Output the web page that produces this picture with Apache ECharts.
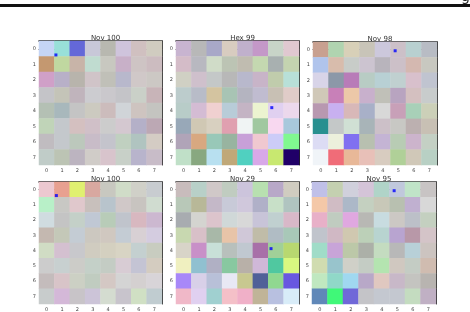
<!DOCTYPE html>
<html><head><meta charset="utf-8">
<script src="https://cdn.jsdelivr.net/npm/echarts@6/dist/echarts.min.js"></script>
<style>html,body{margin:0;padding:0;background:#fff}#c{width:470px;height:312px}</style>
</head><body><div id="c"></div>
<script>
const ticks = ['0','1','2','3','4','5','6','7'];
const titles = ['Nov 100','Hex 99','Nov 98','Nov 100','Nov 29','Nov 95'];
const colors1 = [
 ['#c5d5f5','#98e0d8','#6468d8','#c8c8d8','#b8b8b0','#cfc4dc','#d0c0c0','#d0ccc0'],
 ['#c49870','#c0d8a0','#c8b4a8','#c0dcd0','#c8c8c0','#c8b0c8','#cec4c4','#ccbcc0'],
 ['#d0a0c8','#b8b0c8','#b8b4ac','#d0c4c8','#c0c0b8','#b8b8cc','#d0c8c8','#ccc8c4'],
 ['#c4c4c8','#c4c4b8','#c0b4bc','#ccccd0','#cac8cc','#c4c4c8','#cad0c8','#c8b4b8'],
 ['#b4c0b4','#a8b8bc','#c4c4c4','#cccac0','#ccbcbc','#d0d4d8','#cec4c0','#c4c4c0'],
 ['#c0d4b8','#c4c8cc','#d4c0c0','#d0c0c8','#cccccc','#d4c8d0','#b4b0c8','#bca8b4'],
 ['#c0bcc0','#c4c8cc','#bcc8bc','#c8bcc8','#c4c4cc','#c0d0c0','#b0c4c0','#d4ccc4'],
 ['#c0ccc8','#bcc4b4','#bcb4c0','#d0ccc8','#d8c4cc','#c8d0c8','#b8b4cc','#c8bcc8']];
const colors2 = [
 ['#c8b4d0','#b8b8b8','#a8a8c8','#d8ccc0','#c0b0cc','#c498c8','#c8d4c8','#e0c8d0'],
 ['#d4bcc8','#b8b8c0','#d0dcc8','#bcc4b4','#c0bcb0','#c4d8b0','#a8b0b0','#c4d4b0'],
 ['#d0d0c4','#cfc0cc','#c4c8c8','#b8b8b8','#b8b8cc','#c8b4c8','#c0ccac','#b8e0d8'],
 ['#bccccc','#b8bcc8','#d4c4a0','#a8c4b4','#b4b4c0','#c0bcd0','#c8c0b4','#e0ccc8'],
 ['#b8ccc8','#d4bcd4','#f0d0d0','#b8ccd8','#c4b4c4','#ecf4d0','#e0d0f0','#ecd8ec'],
 ['#98a8b8','#d0c8b4','#d8d0c0','#e0a0b0','#f0f4f4','#a0c8a0','#f8d8f0','#a8c8dc'],
 ['#b0a4b8','#d8a880','#98c8b8','#98b4a0','#c8a0d8','#f0c8d0','#ccccf8','#80f890'],
 ['#c0e0c8','#88a880','#b8e0f0','#c0a878','#50d0c0','#d8a8e8','#c8e870','#200068']];
const colors3 = [
 ['#c8a090','#b0d4b0','#d8d0b8','#c8c4b8','#ccc8dc','#ccc0c8','#b8d0d0','#b8bcc4'],
 ['#b0c4ec','#d8bcac','#c8ccc8','#ccc4d0','#b8b4bc','#ccc0c8','#d4b8b0','#c8c8c0'],
 ['#d8d4e8','#8c98a8','#b87cb8','#b8ccc4','#b8d0d4','#c0d0d0','#d8c0cc','#c0c4d0'],
 ['#d0c8b8','#c880b8','#ecc8a8','#c8b0cc','#c0c0b8','#b8a4c0','#d4c0c0','#c8cccc'],
 ['#b898b0','#c8b0f0','#d8b8b8','#a8b0c8','#d8d8d8','#c8a0b8','#a8d0b8','#ccd0b8'],
 ['#289090','#c4c8c8','#d0e0d4','#a8b4b8','#ccc0c8','#c8c8c4','#bcb0b0','#c8c0b4'],
 ['#dcdcf4','#ecf0dc','#8070f0','#b8c0b0','#c4b4d4','#b8ccb4','#ccb4cc','#c4d0c4'],
 ['#f0f4f8','#f06c78','#e8b898','#e8c0b8','#d8ccc0','#b0d098','#d0c8b8','#b8d0c4']];
const colors4 = [
 ['#ecc8d0','#e8a090','#e0f070','#d8a8a0','#c8c8c0','#d0dcc8','#d0d0c8','#c8ccd0'],
 ['#b8f0c8','#c8c8c4','#e0c8cc','#c8c0bc','#b8c4cc','#d0c8c8','#c8c4c0','#d0dcd0'],
 ['#d0dce0','#c4c4c4','#c4d0c8','#c0c8d4','#b8ccb8','#c0c4cc','#d8b8c0','#ccb8d0'],
 ['#c4b8b0','#c4c8b8','#c4ccd4','#ccc8c0','#d0c8c0','#c4ccd4','#d8d0d4','#d4cce0'],
 ['#d0dcc4','#d4c0d0','#c8c8cc','#d0ccc0','#d4d0c0','#d8d4c4','#c4d0d0','#c8ccc0'],
 ['#cccccc','#c8d0d0','#ccccc8','#c4d0c8','#c4ccc4','#d8ccd4','#c4c4d4','#d4ccc0'],
 ['#c4bcbc','#d8c4c8','#ccd0c4','#c0ccc0','#d4c8c4','#d4d4d4','#d4d0d0','#d8d4d8'],
 ['#c8cccc','#d4b8d8','#c8c4c8','#ccc4d8','#d4dcd0','#c8c4cc','#d0e0c4','#c0ccd0']];
const colors5 = [
 ['#c8bcbc','#b8d0c8','#d0c8c8','#c0ccc0','#ccc4dc','#b8e0b0','#b8a8c8','#d0ccc0'],
 ['#b8c8b8','#b8b898','#c4b8c8','#c8cad8','#d0c8dc','#b0b0c8','#c8e0c8','#b0c4c0'],
 ['#a8acb0','#d4d4d0','#dcc4cc','#d0d8d8','#d8d8d8','#c8c4d8','#c0d0d0','#d8b8c8'],
 ['#c8d8b0','#d8c0c8','#a8b8a8','#e8c4a8','#d0c8d8','#c0bca8','#b0bcc4','#a8c8b8'],
 ['#d8d4c8','#c890c8','#c8e0d8','#b8c0bc','#c0c8d0','#a870a8','#a0d098','#b8d870'],
 ['#f0f0c0','#90c0d0','#b0b0c4','#88c8a0','#b8b0a8','#d0b8d8','#50c8a0','#d8f880'],
 ['#a888f8','#d8d0e8','#b8c0d8','#e8e8f4','#c8c890','#506098','#90d890','#6858e0'],
 ['#f0b8c8','#e0d0f0','#a0d0d0','#f4c0c8','#f0b0c8','#c0b498','#b8c0e0','#d8ecf8']];
const colors6 = [
 ['#c0c0e8','#c4d0b0','#d0d0dc','#d4c4d8','#b0d4c8','#c0c8dc','#c0e4c8','#c8c4c4'],
 ['#f4c8a8','#d0bcc4','#acb8c8','#c4d0c0','#c8c8b8','#b8c0b0','#c0b0d0','#d8d8d8'],
 ['#e8b0c8','#c0ccc0','#e0a8e0','#b8b8b4','#c8dce0','#ccc8c4','#bcc0c8','#c4d0c0'],
 ['#c0c4cc','#d0b8c4','#d0c8b0','#bcd0b8','#b8d4d0','#b8a4d0','#b898a8','#d4c4c8'],
 ['#a0dcc8','#c8a4d8','#bcc8a8','#acb0a8','#c4dcc0','#b8b8b8','#b8d0d8','#ccc4c0'],
 ['#d0dcb0','#98c4cc','#d0d0c8','#c4ccc4','#b4e4b0','#d0c8c0','#c4ccc4','#d0bcb0'],
 ['#c0e8c0','#90d8c8','#a0d8f0','#b8a8c8','#e0c8c0','#c8b8c8','#c4c4c0','#b8b4b0'],
 ['#6088b8','#40f878','#7068d8','#c4c4c8','#c4c8d0','#c4c8d0','#c4dcc0','#c0b0c4']];
const markers = [[0.6,0.4],[5.73,3.8],[4.8,0.07],[0.63,0.39],[5.68,3.87],[4.8,0.07]];

const colorSets = [colors1,colors2,colors3,colors4,colors5,colors6];
const grids = [
 {left:39,top:41,width:123,height:124},
 {left:176,top:41,width:123,height:124},
 {left:313,top:42,width:124,height:123},
 {left:39,top:182,width:123,height:123},
 {left:176,top:182,width:123,height:123},
 {left:312,top:182,width:124,height:123}];
const font = 'DejaVu Sans';
const option = {animation:false, backgroundColor:'#fff', grid:grids, xAxis:[], yAxis:[], series:[], title:[], graphic:[
  {type:'rect', shape:{x:0,y:4,width:470,height:3}, style:{fill:'#111'}},
  {type:'text', x:461, y:-10, style:{text:'g', fontSize:14, fill:'#222', fontFamily:font}}
]};
colorSets.forEach((cs,i)=>{
  const g = grids[i];
  option.title.push({text:titles[i], left:g.left+g.width/2, top:g.top-11, textAlign:'center',
    textStyle:{fontSize:7, fontWeight:'normal', color:'#333', fontFamily:font}});
  option.xAxis.push({type:'category', gridIndex:i, data:ticks, position:'bottom',
    axisLine:{show:true, lineStyle:{color:'#444', width:1}},
    axisTick:{show:true, alignWithLabel:true, length:2, lineStyle:{color:'#333'}},
    axisLabel:{fontSize:5, color:'#444', margin:3, fontFamily:font}, splitLine:{show:false}});
  option.yAxis.push({type:'category', gridIndex:i, data:ticks, inverse:true,
    axisLine:{show:false},
    axisTick:{show:true, alignWithLabel:true, length:2, lineStyle:{color:'#333'}},
    axisLabel:{fontSize:5, color:'#444', margin:3, fontFamily:font}, splitLine:{show:false}});
  option.xAxis.push({type:'value', gridIndex:i, min:-0.5, max:7.5, position:'top',
    axisLine:{show:true, lineStyle:{color:'#111', width:1.5}}, axisTick:{show:false}, axisLabel:{show:false}, splitLine:{show:false}});
  option.yAxis.push({type:'value', gridIndex:i, min:-0.5, max:7.5, inverse:true, position:'right',
    axisLine:{show:true, lineStyle:{color:'#222', width:1}}, axisTick:{show:false}, axisLabel:{show:false}, splitLine:{show:false}});
  const data = [];
  cs.forEach((row,r)=>row.forEach((c,col)=>data.push({value:[col,r,1], itemStyle:{color:c}})));
  option.series.push({type:'heatmap', xAxisIndex:2*i, yAxisIndex:2*i, data:data, itemStyle:{borderWidth:0}});
  option.series.push({type:'scatter', xAxisIndex:2*i+1, yAxisIndex:2*i+1, symbol:'rect', symbolSize:3,
    itemStyle:{color:'#0000ff'}, data:[markers[i]], z:5});
});
const chart = echarts.init(document.getElementById('c'), null, {renderer:'canvas'});
chart.setOption(option);
</script></body></html>
